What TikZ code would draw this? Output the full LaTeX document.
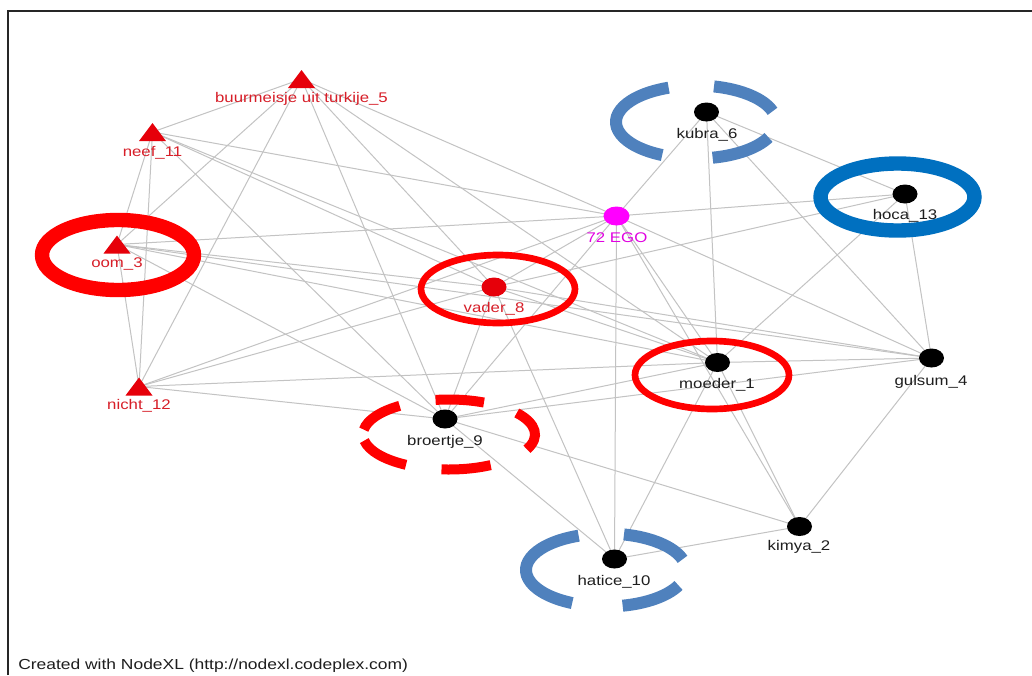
\documentclass[tikz,border=0pt]{standalone}
\usepackage{fontspec}
\setmainfont{Liberation Sans}
\newfontfamily\lblfont[FakeStretch=1.2]{Liberation Sans}
\definecolor{edgegray}{RGB}{195,195,195}
\definecolor{labred}{RGB}{215,30,40}
\definecolor{trired}{RGB}{230,0,10}
\definecolor{ringred}{RGB}{255,0,0}
\definecolor{ringblue}{RGB}{0,112,192}
\definecolor{dashblue}{RGB}{79,129,189}
\definecolor{egomag}{RGB}{255,0,255}
\definecolor{egolab}{RGB}{225,0,225}
\definecolor{darktxt}{RGB}{30,30,30}
\begin{document}
\begin{tikzpicture}[x=0.75pt,y=-0.75pt,
  edge/.style={draw=edgegray,line width=0.75pt},
  lbl/.style={anchor=base,inner sep=0pt,font=\lblfont\fontsize{10.5pt}{12pt}\selectfont},
  redlbl/.style={lbl,text=labred},
  blklbl/.style={lbl,text=darktxt},
  ringsolid/.style={draw=ringred,line width=5pt},
  ringthick/.style={line width=10.8pt},
  kdash/.style={draw=dashblue,line width=9pt},
  bdash/.style={draw=ringred,line width=7.5pt}]
\useasboundingbox (0,0) rectangle (1032,675);
\fill[white] (0,0) rectangle (1032,675);
% frame
\draw[line width=1.5pt,draw=black!85] (8,675) -- (8,11) -- (1032,11);

% vertices
\coordinate (buur) at (301.5,79);
\coordinate (neef) at (152.5,132);
\coordinate (oom) at (117,244.5);
\coordinate (nicht) at (139,386.5);
\coordinate (vader) at (494,287);
\coordinate (ego) at (616.5,216);
\coordinate (kubra) at (706.5,112);
\coordinate (hoca) at (905,194);
\coordinate (moeder) at (717.5,362.5);
\coordinate (gulsum) at (931.5,358);
\coordinate (broertje) at (445,419);
\coordinate (hatice) at (614.5,559);
\coordinate (kimya) at (799.5,526.5);

% edges
\foreach \a/\b in {buur/neef,buur/oom,buur/nicht,buur/broertje,buur/vader,buur/moeder,buur/ego,
  neef/oom,neef/nicht,neef/ego,neef/vader,neef/moeder,neef/broertje,
  oom/nicht,oom/ego,oom/vader,oom/moeder,oom/broertje,oom/gulsum,
  nicht/ego,nicht/vader,nicht/moeder,nicht/broertje,
  vader/ego,vader/moeder,vader/broertje,vader/hatice,vader/gulsum,vader/hoca,
  ego/kubra,ego/hoca,ego/gulsum,ego/moeder,ego/kimya,ego/hatice,ego/broertje,
  kubra/moeder,kubra/gulsum,kubra/hoca,
  hoca/moeder,hoca/gulsum,
  moeder/gulsum,moeder/kimya,moeder/hatice,moeder/broertje,
  gulsum/kimya,gulsum/broertje,
  kimya/hatice,kimya/broertje,
  hatice/broertje}
  {\draw[edge] (\a) -- (\b);}

% highlight rings
\draw[draw=ringred,ringthick] (118,255) ellipse[x radius=76,y radius=35];
\draw[ringsolid] (498,289) ellipse[x radius=77,y radius=34];
\draw[ringsolid] (712,375) ellipse[x radius=77,y radius=34];
\draw[draw=ringblue,ringthick] (897.5,197) ellipse[x radius=77,y radius=33.5];

% dashed blue rings (kubra, hatice)
\foreach \cx/\cy in {696/122, 606/570}{
  \foreach \s/\e in {-17/-77,-110/-245,-282/-335}{
    \draw[kdash] (\cx,\cy) ++(\s:80 and 36.5) arc[start angle=\s,end angle=\e,x radius=80,y radius=36.5];
  }
}
% dashed red ring (broertje)
\foreach \s/\e in {-66/-99,-125/-172,-190/-240,-265/-299,-335/-398}{
  \draw[bdash] (449,434.5) ++(\s:86 and 35) arc[start angle=\s,end angle=\e,x radius=86,y radius=35];
}

% vertex shapes
\foreach \n in {buur,neef,oom,nicht}{
  \fill[trired] ([shift={(-13.5,9)}]\n) -- ([shift={(0,-9)}]\n) -- ([shift={(13.5,9)}]\n) -- cycle;
}
\fill[trired] (vader) ellipse[x radius=12.5,y radius=9.5];
\fill[egomag] (ego) ellipse[x radius=13,y radius=9.5];
\foreach \n in {kubra,hoca,moeder,gulsum,broertje,hatice,kimya}{
  \fill[black] (\n) ellipse[x radius=12.5,y radius=9.5];
}

% labels
\node[redlbl] (lbuur) at (301.5,102) {buurmeisje uit turkije\_5};
\node[redlbl] (lneef) at (152.5,156) {neef\_11};
\node[redlbl] (loom) at (117,267) {oom\_3};
\node[redlbl] (lnicht) at (139,409) {nicht\_12};
\node[redlbl] (lvader) at (494,312) {vader\_8};
\node[lbl,text=egolab] (lego) at (617,242) {72 EGO};
\node[blklbl] (lkubra) at (707,138) {kubra\_6};
\node[blklbl] (lhoca) at (905,219) {hoca\_13};
\node[blklbl] (lmoeder) at (717,388) {moeder\_1};
\node[blklbl] (lgulsum) at (931,385) {gulsum\_4};
\node[blklbl] (lbroertje) at (445,445) {broertje\_9};
\node[blklbl] (lhatice) at (614,585) {hatice\_10};
\node[blklbl] (lkimya) at (799,550) {kimya\_2};
\node[blklbl,anchor=base west,font=\lblfont\fontsize{10.9pt}{12pt}\selectfont] (credit) at (18,669) {Created with NodeXL (http://nodexl.codeplex.com)};
\end{tikzpicture}
\end{document}
